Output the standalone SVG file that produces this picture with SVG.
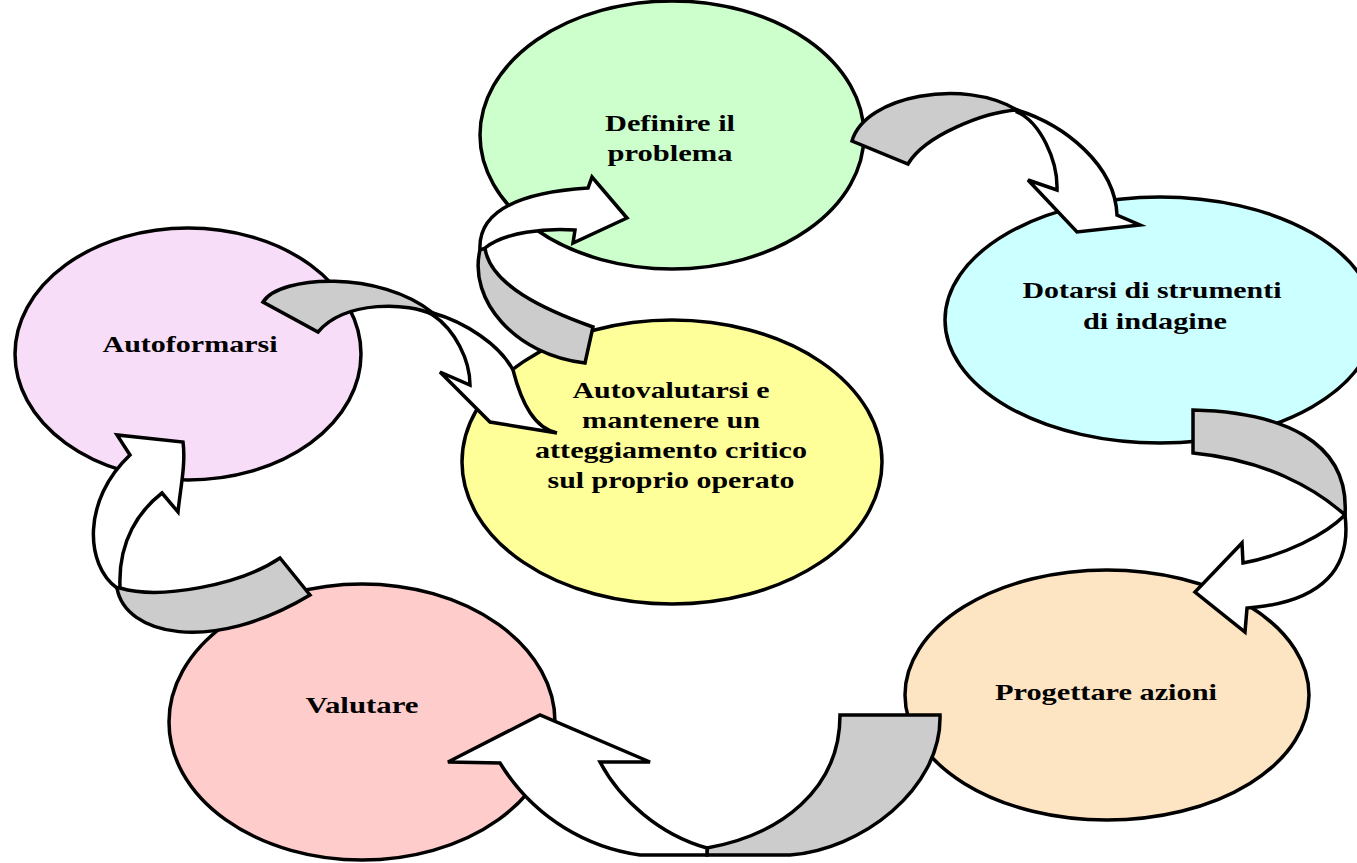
<svg xmlns="http://www.w3.org/2000/svg" width="1357" height="863" viewBox="0 0 1357 863">
<style>
.n{stroke:#000;stroke-width:3.5}
.t{font-family:"Liberation Serif","Times New Roman",serif;font-weight:bold;font-size:24px;fill:#000;text-anchor:middle}
.g{fill:#CCCCCC;stroke:#000;stroke-width:3.5;stroke-linejoin:miter}
.w{fill:#FFFFFF;stroke:#000;stroke-width:3.5;stroke-linejoin:miter}
</style>
<rect width="1357" height="863" fill="#FFFFFF"/>
<g id="node-definire">
<ellipse class="n" cx="672" cy="135" rx="192" ry="134" fill="#CCFFCC"/>
<text class="t" x="670" y="131" textLength="130" lengthAdjust="spacingAndGlyphs">Definire il</text>
<text class="t" x="670" y="161" textLength="125" lengthAdjust="spacingAndGlyphs">problema</text>
</g>
<g id="node-dotarsi">
<ellipse class="n" cx="1160" cy="320" rx="215" ry="123" fill="#CCFFFF"/>
<text class="t" x="1152" y="298" textLength="259" lengthAdjust="spacingAndGlyphs">Dotarsi di strumenti</text>
<text class="t" x="1155" y="329" textLength="144" lengthAdjust="spacingAndGlyphs">di indagine</text>
</g>
<g id="node-autovalutarsi">
<ellipse class="n" cx="672" cy="462" rx="210" ry="142" fill="#FFFF99"/>
<text class="t" x="671" y="398" textLength="197" lengthAdjust="spacingAndGlyphs">Autovalutarsi e</text>
<text class="t" x="671" y="428" textLength="178" lengthAdjust="spacingAndGlyphs">mantenere un</text>
<text class="t" x="671" y="458" textLength="272" lengthAdjust="spacingAndGlyphs">atteggiamento critico</text>
<text class="t" x="671" y="488" textLength="247" lengthAdjust="spacingAndGlyphs">sul proprio operato</text>
</g>
<g id="node-autoformarsi">
<ellipse class="n" cx="188" cy="354" rx="173" ry="126" fill="#F8DDF8"/>
<text class="t" x="190" y="352" textLength="175" lengthAdjust="spacingAndGlyphs">Autoformarsi</text>
</g>
<g id="node-progettare">
<ellipse class="n" cx="1107" cy="695" rx="202" ry="125" fill="#FDE4C2"/>
<text class="t" x="1106" y="700" textLength="222" lengthAdjust="spacingAndGlyphs">Progettare azioni</text>
</g>
<g id="node-valutare">
<ellipse class="n" cx="362" cy="722" rx="193" ry="138" fill="#FFCCCC"/>
<text class="t" x="362" y="713" textLength="113" lengthAdjust="spacingAndGlyphs">Valutare</text>
</g>
<g id="connectors">
<g id="arrow-definire-dotarsi">
<path class="g" d="M852,141 C865,95 965,78 1017,110 C985,112 925,135 908,164 Z"/>
<path class="w" d="M1017,110 C1065,125 1115,165 1117,215 L1140,225 L1077,232 L1028,180 L1057,190 C1058,160 1040,122 1017,112 Z"/>
</g>
<g id="arrow-dotarsi-progettare">
<path class="g" d="M1193,410 C1280,412 1350,440 1345,515 C1315,488 1265,460 1193,453 Z"/>
<path class="w" d="M1345,515 C1352,570 1320,600 1257,607 L1247,608 L1245,632 L1195,592 L1242,543 L1243,563 C1285,555 1325,535 1345,515 Z"/>
</g>
<g id="arrow-progettare-valutare">
<path class="g" d="M840,715 L940,715 C942,790 860,850 790,855 L707,855 L707,848 C780,835 840,790 840,715 Z"/>
<path class="w" d="M707,855 L640,855 C590,848 535,820 500,763 L448,762 L540,715 L650,762 L600,762 C620,800 660,835 707,848 Z"/>
</g>
<g id="arrow-valutare-autoformarsi">
<path class="g" d="M280,558 C240,585 160,600 120,588 L117,588 C125,635 210,655 310,595 Z"/>
<path class="w" d="M117,588 C85,565 82,500 130,455 L117,435 L183,442 C186,465 180,490 178,512 L162,493 C140,510 118,540 120,587 Z"/>
</g>
<g id="arrow-autoformarsi-autovalutarsi">
<path class="g" d="M263,302 C280,275 380,270 433,313 L433,315 C410,302 345,300 318,332 Z"/>
<path class="w" d="M433,313 C465,322 500,345 513,370 C522,405 535,428 557,433 L520,427 L490,422 L440,372 L470,385 C470,360 455,330 433,315 Z"/>
</g>
<g id="arrow-autovalutarsi-definire">
<path class="g" d="M593,327 C545,310 490,285 485,248 L480,250 C468,300 515,355 585,363 Z"/>
<path class="w" d="M480,250 C478,215 510,193 588,188 L592,177 L627,218 L573,243 L575,230 C545,228 505,232 485,248 Z"/>
</g>
</g>
</svg>
